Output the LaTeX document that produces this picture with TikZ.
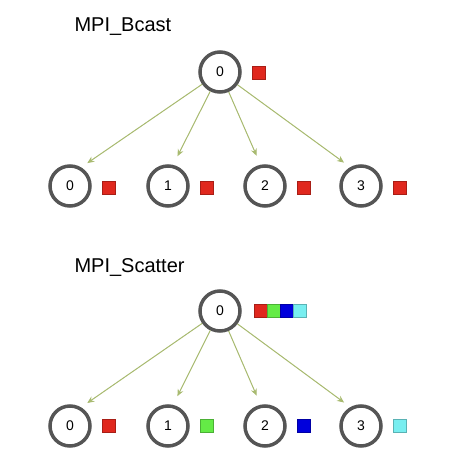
\documentclass[tikz,border=0pt]{standalone}
\usepackage{fontspec}
\setmainfont{Liberation Sans}
\usetikzlibrary{arrows.meta}
\definecolor{cRing}{RGB}{85,85,85}
\definecolor{cArrow}{RGB}{168,186,112}
\definecolor{cRed}{RGB}{224,40,30}
\definecolor{cGreen}{RGB}{100,235,70}
\definecolor{cBlue}{RGB}{0,0,220}
\definecolor{cCyan}{RGB}{120,238,240}

\begin{document}
\begin{tikzpicture}[
  x=1pt, y=-1pt,
  rank/.style={circle, draw=cRing, line width=3.5pt, minimum size=40pt,
               inner sep=0pt, font=\fontsize{14}{14}\selectfont},
  data/.style={draw=#1!75!black, line width=0.4pt, fill=#1,
               minimum size=13pt, inner sep=0pt},
  title/.style={anchor=west, font=\fontsize{20}{24}\selectfont},
  arr/.style={-{Stealth[length=7pt, width=6pt]}, draw=cArrow, fill=cArrow,
              line width=1pt, shorten >=21pt}
]
\useasboundingbox (0,0) rectangle (448,458);

%%=============================================================================
%% PANEL A -- MPI_Bcast
%%=============================================================================
\node[title] (t_bcast) at (71, 27) {MPI\_Bcast};

\node[rank] (b_root) at (220, 72) {0};
\node[data=cRed] (b_root_d) at (259, 73) {};

\foreach \i/\x in {0/70, 1/168, 2/265, 3/361} {
  \node[rank] (b_\i) at (\x, 186) {\i};
  \node[data=cRed] (b_\i_d) at (\x+39, 187.5) {};
  % aim a little above the centre of the receiving rank
  \draw[arr] (b_root) -- ([yshift=11pt]b_\i.center);
}

%%=============================================================================
%% PANEL B -- MPI_Scatter
%%=============================================================================
\node[title] (t_scatter) at (71, 268) {MPI\_Scatter};

\node[rank] (s_root) at (220, 311) {0};
% send buffer: one block per rank
\foreach \j/\c in {0/cRed, 1/cGreen, 2/cBlue, 3/cCyan}
  \node[data=\c] (s_root_d\j) at (260.5+13*\j, 311) {};

\foreach \i/\x/\c in {0/70/cRed, 1/168/cGreen, 2/265/cBlue, 3/361/cCyan} {
  \node[rank] (s_\i) at (\x, 426) {\i};
  \node[data=\c] (s_\i_d) at (\x+39, 426) {};
  \draw[arr] (s_root) -- ([yshift=11pt]s_\i.center);
}

\end{tikzpicture}
\end{document}
